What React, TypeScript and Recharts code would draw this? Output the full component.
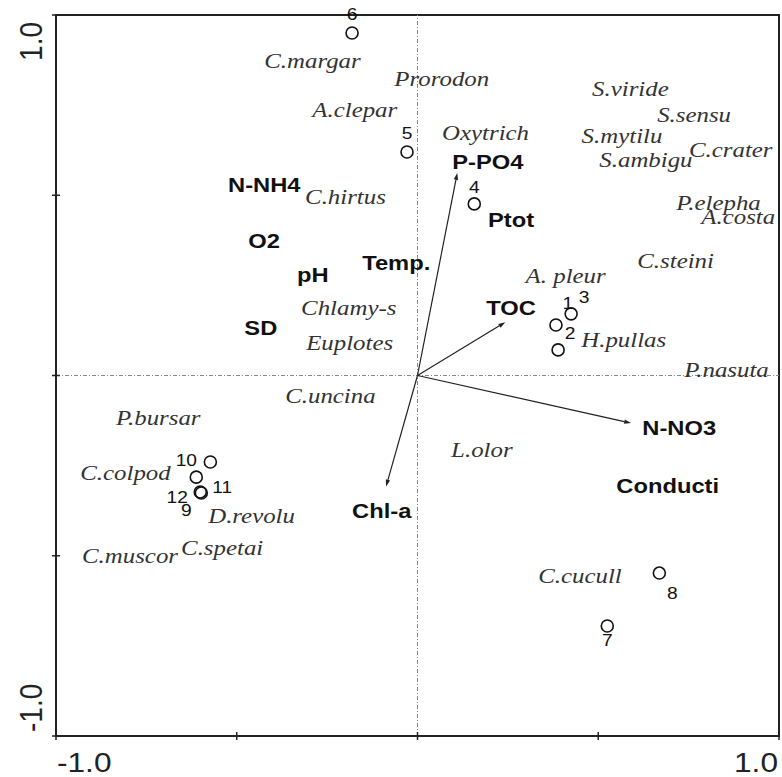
import React from 'react';
import { ScatterChart, Scatter, XAxis, YAxis, ReferenceLine, ReferenceArea } from 'recharts';

// ---- data ----
const axisTicks = [-1, -0.5, 0, 0.5, 1];
const tickLabelText: Record<string, string> = { '-1': '-1.0', '1': '1.0' };

const speciesLabels = [
  { name: 'C.margar', x: -0.424, y: 0.853 },
  { name: 'Prorodon', x: -0.064, y: 0.803 },
  { name: 'A.clepar', x: -0.291, y: 0.717 },
  { name: 'S.viride', x: 0.483, y: 0.775 },
  { name: 'S.sensu', x: 0.663, y: 0.703 },
  { name: 'Oxytrich', x: 0.068, y: 0.653 },
  { name: 'S.mytilu', x: 0.454, y: 0.645 },
  { name: 'C.crater', x: 0.751, y: 0.607 },
  { name: 'S.ambigu', x: 0.503, y: 0.578 },
  { name: 'C.hirtus', x: -0.311, y: 0.476 },
  { name: 'P.elepha', x: 0.716, y: 0.459 },
  { name: 'A.costa', x: 0.785, y: 0.42 },
  { name: 'C.steini', x: 0.608, y: 0.298 },
  { name: 'A. pleur', x: 0.299, y: 0.257 },
  { name: 'Chlamy-s', x: -0.322, y: 0.168 },
  { name: 'H.pullas', x: 0.453, y: 0.079 },
  { name: 'Euplotes', x: -0.308, y: 0.071 },
  { name: 'P.nasuta', x: 0.738, y: -0.004 },
  { name: 'C.uncina', x: -0.366, y: -0.076 },
  { name: 'P.bursar', x: -0.834, y: -0.137 },
  { name: 'L.olor', x: 0.093, y: -0.226 },
  { name: 'C.colpod', x: -0.933, y: -0.29 },
  { name: 'D.revolu', x: -0.579, y: -0.409 },
  { name: 'C.spetai', x: -0.654, y: -0.498 },
  { name: 'C.muscor', x: -0.928, y: -0.52 },
  { name: 'C.cucull', x: 0.334, y: -0.576 },
];

const envLabels = [
  { name: 'N-NH4', x: -0.524, y: 0.509 },
  { name: 'O2', x: -0.468, y: 0.354 },
  { name: 'Temp.', x: -0.153, y: 0.292 },
  { name: 'pH', x: -0.333, y: 0.259 },
  { name: 'SD', x: -0.479, y: 0.112 },
  { name: 'P-PO4', x: 0.096, y: 0.574 },
  { name: 'Ptot', x: 0.195, y: 0.412 },
  { name: 'TOC', x: 0.19, y: 0.168 },
  { name: 'N-NO3', x: 0.622, y: -0.165 },
  { name: 'Chl-a', x: -0.181, y: -0.395 },
  { name: 'Conducti', x: 0.55, y: -0.326 },
];

const envArrows = [
  { name: 'P-PO4', x: 0.11, y: 0.562 },
  { name: 'TOC', x: 0.243, y: 0.148 },
  { name: 'N-NO3', x: 0.591, y: -0.132 },
  { name: 'Chl-a', x: -0.087, y: -0.308 },
];

const sites = [
  { id: 1, x: 0.383, y: 0.14 },
  { id: 2, x: 0.389, y: 0.071 },
  { id: 3, x: 0.425, y: 0.171 },
  { id: 4, x: 0.157, y: 0.476 },
  { id: 5, x: -0.029, y: 0.62 },
  { id: 6, x: -0.181, y: 0.95 },
  { id: 7, x: 0.525, y: -0.695 },
  { id: 8, x: 0.669, y: -0.548 },
  { id: 9, x: -0.598, y: -0.326 },
  { id: 10, x: -0.573, y: -0.24 },
  { id: 11, x: -0.612, y: -0.282 },
  { id: 12, x: -0.601, y: -0.323 },
];

// ---- styling ----
const SX = 1.13; // horizontal glyph stretch of the original figure
const siteLabelOffset: Record<number, [number, number]> = {
  1: [12, -22], 2: [12, -17], 3: [13, -16], 4: [0, -17], 5: [0, -19], 6: [0, -19],
  7: [0, 14], 8: [13, 20], 9: [-15, 17], 10: [-24, -2], 11: [26, 10], 12: [-23, 5],
};

const StretchText = ({ x, y, anchor = 'start', baseline, children, ...rest }: any) => (
  <g transform={`translate(${x},${y}) scale(${SX},1)`}>
    <text x={0} y={0} textAnchor={anchor} dominantBaseline={baseline} {...rest}>
      {children}
    </text>
  </g>
);

const SpeciesShape = (p: any) => (
  <StretchText x={p.cx} y={p.cy} fontFamily="'Liberation Serif', serif" fontStyle="italic" fontSize={22} fill="#333">
    {p.payload?.name ?? p.name}
  </StretchText>
);

const EnvShape = (p: any) => (
  <StretchText x={p.cx} y={p.cy} fontFamily="'Liberation Sans', Arial, sans-serif" fontWeight="bold" fontSize={21} fill="#111">
    {p.payload?.name ?? p.name}
  </StretchText>
);

const SiteShape = (p: any) => {
  const id = p.payload?.id ?? p.id;
  const [dx, dy] = siteLabelOffset[id] || [0, -18];
  return (
    <g>
      <circle cx={p.cx} cy={p.cy} r={6} fill="none" stroke="#111" strokeWidth={1.6} />
      <StretchText x={p.cx + dx} y={p.cy + dy} anchor="middle" baseline="central" fontFamily="'Liberation Sans', Arial, sans-serif" fontSize={17} fill="#111">
        {String(id)}
      </StretchText>
    </g>
  );
};

const ArrowShape = (p: any) => {
  const { x1, y1, x2, y2 } = p;
  const ang = Math.atan2(y2 - y1, x2 - x1);
  const L = 7, W = 2.2;
  const bx = x2 - L * Math.cos(ang);
  const by = y2 - L * Math.sin(ang);
  const px = -Math.sin(ang) * W;
  const py = Math.cos(ang) * W;
  return (
    <g>
      <line x1={x1} y1={y1} x2={bx} y2={by} stroke="#222" strokeWidth={1.2} />
      <polygon points={`${x2},${y2} ${bx + px},${by + py} ${bx - px},${by - py}`} fill="#222" />
    </g>
  );
};

const tickFont = { fontFamily: "'Liberation Sans', Arial, sans-serif", fontSize: 28, fill: '#222' };

const XTick = (p: any) => {
  const { x, y, payload } = p;
  const v = payload.value;
  const label = tickLabelText[String(v)];
  return (
    <g>
      <line x1={x} x2={x} y1={y - 4} y2={y + 4} stroke="#222" strokeWidth={1.5} />
      {label ? (
        <StretchText x={v < 0 ? x + 1 : x - 1} y={y + 36} anchor={v < 0 ? 'start' : 'end'} {...tickFont}>
          {label}
        </StretchText>
      ) : null}
    </g>
  );
};

const YTick = (p: any) => {
  const { x, y, payload } = p;
  const v = payload.value;
  const label = tickLabelText[String(v)];
  return (
    <g>
      <line x1={x - 4} x2={x + 4} y1={y} y2={y} stroke="#222" strokeWidth={1.5} />
      {label ? (
        <g transform={`translate(${x - 14},${v > 0 ? y + 7 : y - 4}) rotate(-90) scale(1,${SX})`}>
          <text x={0} y={0} textAnchor={v > 0 ? 'end' : 'start'} {...tickFont}>
            {label}
          </text>
        </g>
      ) : null}
    </g>
  );
};

export default function App() {
  return (
    <div style={{ position: 'fixed', left: 0, top: 0, width: 782, height: 777, overflow: 'hidden', background: '#fff' }}>
      <ScatterChart width={782} height={777} margin={{ top: 15, right: 3, bottom: 0, left: 0 }}>
        <XAxis
          type="number"
          dataKey="x"
          domain={[-1, 1]}
          ticks={axisTicks}
          interval={0}
          height={41}
          tickSize={0}
          tickMargin={0}
          tickLine={false}
          axisLine={{ stroke: '#222', strokeWidth: 2 }}
          tick={<XTick />}
        />
        <YAxis
          type="number"
          dataKey="y"
          domain={[-1, 1]}
          ticks={axisTicks}
          interval={0}
          width={56}
          tickSize={0}
          tickMargin={0}
          tickLine={false}
          axisLine={{ stroke: '#222', strokeWidth: 2 }}
          tick={<YTick />}
        />
        <ReferenceArea x1={-1} x2={1} y1={-1} y2={1} fill="none" fillOpacity={0} stroke="#222" strokeWidth={2} />
        <ReferenceLine x={0} stroke="#888" strokeWidth={1} strokeDasharray="4 2 1 2" />
        <ReferenceLine y={0} stroke="#888" strokeWidth={1} strokeDasharray="4 2 1 2" />
        {envArrows.map((a) => (
          <ReferenceLine
            key={a.name}
            segment={[{ x: 0, y: 0 }, { x: a.x, y: a.y }]}
            shape={<ArrowShape />}
          />
        ))}
        <Scatter data={speciesLabels} shape={<SpeciesShape />} isAnimationActive={false} />
        <Scatter data={envLabels} shape={<EnvShape />} isAnimationActive={false} />
        <Scatter data={sites} shape={<SiteShape />} isAnimationActive={false} />
      </ScatterChart>
    </div>
  );
}
